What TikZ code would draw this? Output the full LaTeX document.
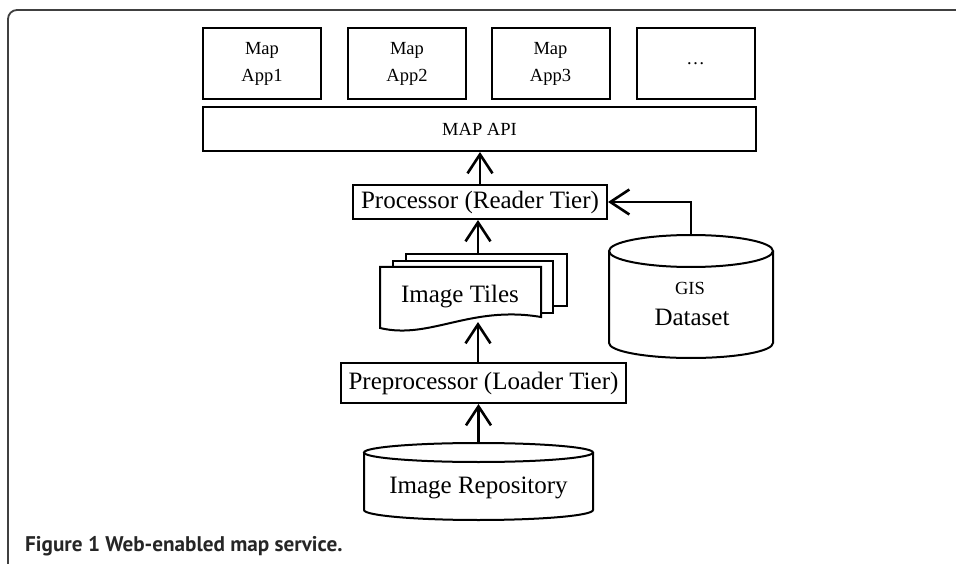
\documentclass[tikz,border=0pt]{standalone}
\usepackage{fontspec}
\setmainfont{Liberation Serif}
\newfontfamily\capfont{PT Sans}
\usetikzlibrary{arrows.meta}
\newcommand{\bigtxt}{\fontsize{25}{30}\selectfont}
\newcommand{\smalltxt}{\fontsize{18.5}{27}\selectfont}

\begin{document}
\begin{tikzpicture}[x=1pt,y=-1pt,
	box/.style={draw,line width=2pt,inner sep=0pt,fill=white},
	arr/.style={line width=2.6pt,-{Straight Barb[length=19pt,width=25pt]}},
	cyl/.style={line width=2pt,fill=white}]
	\useasboundingbox (0,0) rectangle (956,564);
	\draw[line width=1.8pt,black!75,rounded corners=9pt] (8,564)--(8,10)--(956,10);
	
	\foreach \x/\t [count=\i] in {262/Map\\App1,407/Map\\App2,550.5/Map\\App3,695.5/\dots}
		\node[box,minimum width=118,minimum height=71,align=center,font=\smalltxt] (app\i) at (\x,63.5) {\t};
	\node[box,minimum width=553,minimum height=44,font=\smalltxt] (api) at (479.5,129) {MAP API};
	\node[box,minimum width=254,minimum height=34,font=\bigtxt] (proc) at (480,202) {Processor (Reader Tier)};
	\node[box,minimum width=285,minimum height=40,font=\bigtxt] (pre) at (483.5,383) {Preprocessor (Loader Tier)};
	
	% stack of tiles
	\draw[box] (406,254) rectangle (567,306);
	\draw[box] (393,261) rectangle (553,313);
	\draw[box] (380,328)--(380,267)--(541,267)--(541,317) .. controls (470,305) and (430,340) .. (380,328) -- cycle;
	\node[font=\bigtxt] (tiles) at (460,297) {Image Tiles};
	\coordinate (tilesin) at (478,322);
	\coordinate (tilesout) at (478,254);
	
	% repositories
	\draw[cyl] (364,452.5)--(364,510) arc[start angle=180,end angle=360,x radius=114.5pt,y radius=10pt]--(593,452.5);
	\draw[cyl] (478.5,452.5) ellipse[x radius=114.5pt,y radius=9.5pt];
	\node[font=\bigtxt] (repo) at (478.5,488) {Image Repository};
	\coordinate (repotop) at (478.5,443);
	\draw[cyl] (609,251)--(609,343) arc[start angle=180,end angle=360,x radius=82pt,y radius=15pt]--(773,251);
	\draw[cyl] (691,251) ellipse[x radius=82pt,y radius=16pt];
	\node[font=\smalltxt] (gis) at (690,288) {GIS};
	\node[font=\bigtxt] (data) at (692,317) {Dataset};
	\coordinate (gistop) at (691,235);
	
	\draw[arr] (proc.north) -- (proc.north |- api.south);
	\draw[arr] (tilesout) -- (tilesout |- proc.south);
	\draw[arr] (pre.north -| tilesin) -- (tilesin);
	\draw[arr] (repotop) -- (repotop |- pre.south);
	\draw[arr] (gistop) |- (proc.east);
	
	\node[anchor=base west,inner sep=0pt,text=black!85,font=\capfont\fontsize{21.2}{25}\selectfont\bfseries] (cap) at (25,551) {Figure 1 Web-enabled map service.};
\end{tikzpicture}
\end{document}
